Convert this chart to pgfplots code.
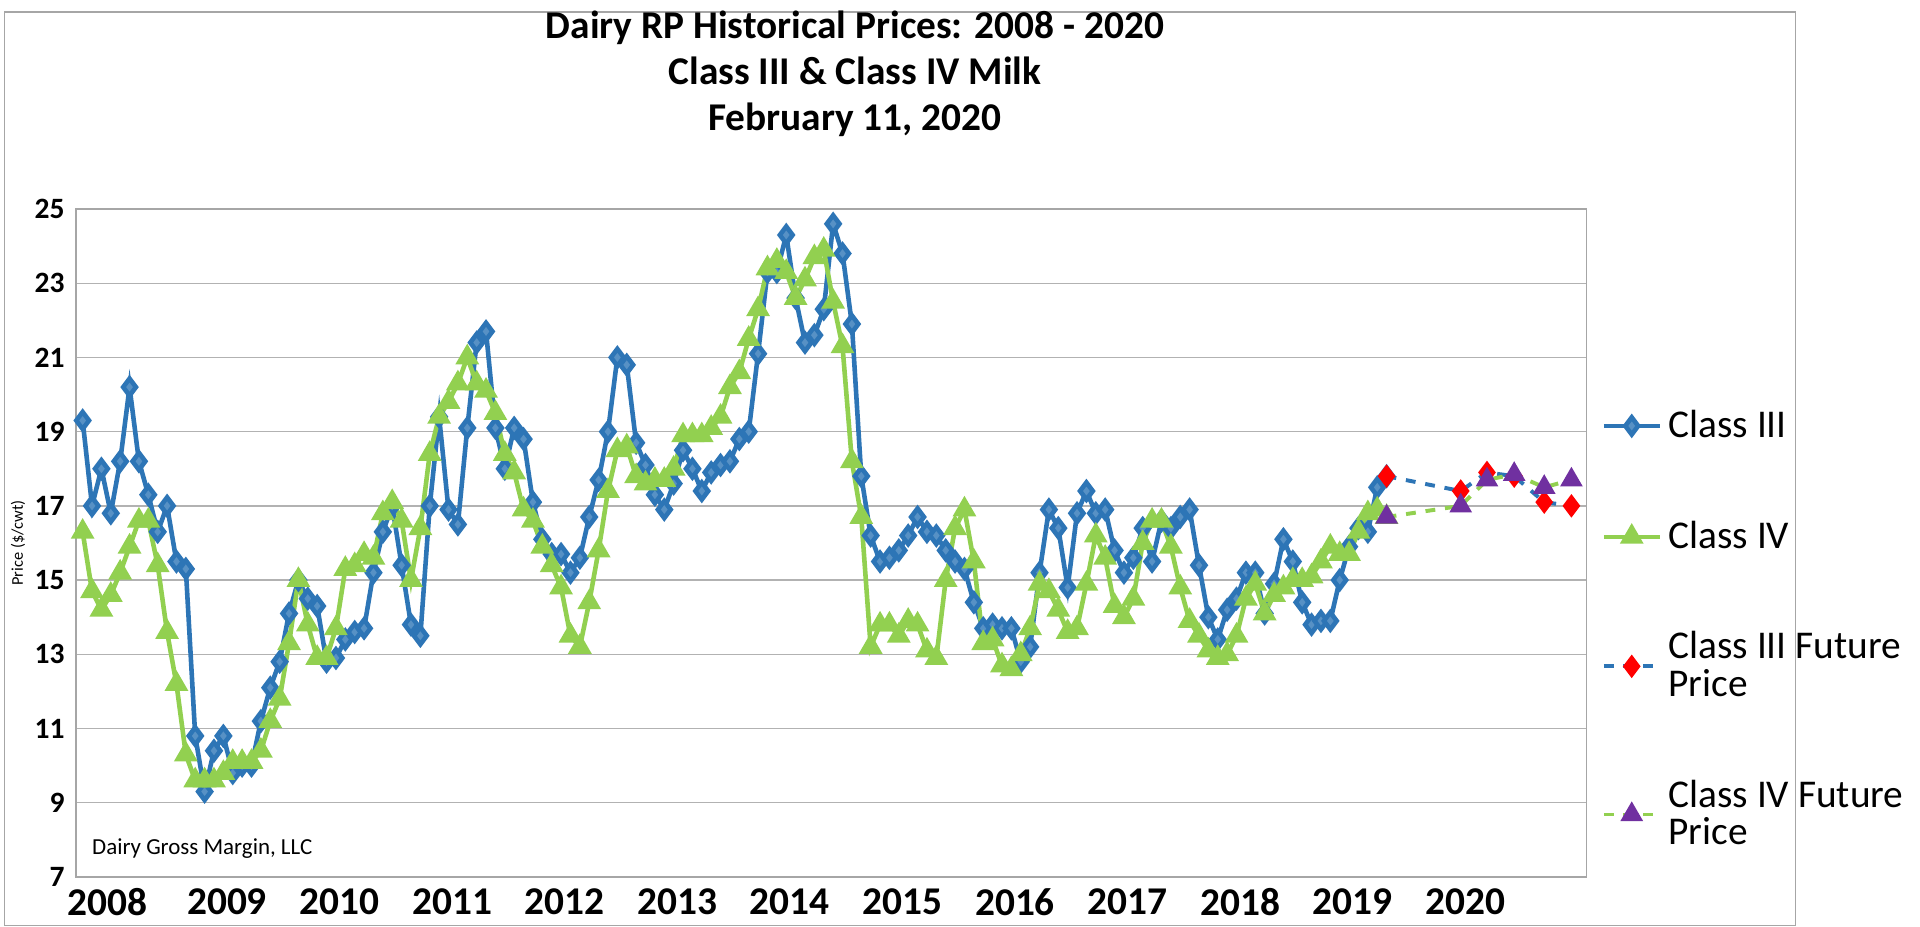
\documentclass[border=0pt]{standalone}
\usepackage{pgfplots}
\usepackage{pgfplotstable}
\pgfplotsset{compat=1.18}
\usepackage{fontspec}
\setmainfont{Carlito}
\definecolor{cblue}{RGB}{45,117,182}
\definecolor{cgreen}{RGB}{146,208,80}
\definecolor{cred}{RGB}{255,0,0}
\definecolor{cpurp}{RGB}{112,48,160}
\pgfplotstableread{
v
19.3
17.0
18.0
16.8
18.2
20.2
18.2
17.3
16.3
17.0
15.5
15.3
10.8
9.3
10.4
10.8
9.8
10.0
10.0
11.2
12.1
12.8
14.1
15.0
14.5
14.3
12.8
12.9
13.4
13.6
13.7
15.2
16.3
17.0
15.4
13.8
13.5
17.0
19.4
16.9
16.5
19.1
21.4
21.7
19.1
18.0
19.1
18.8
17.1
16.1
15.7
15.7
15.2
15.6
16.7
17.7
19.0
21.0
20.8
18.7
18.1
17.3
16.9
17.6
18.5
18.0
17.4
17.9
18.1
18.2
18.8
19.0
21.1
23.3
23.3
24.3
22.6
21.4
21.6
22.3
24.6
23.8
21.9
17.8
16.2
15.5
15.6
15.8
16.2
16.7
16.3
16.2
15.8
15.5
15.3
14.4
13.7
13.8
13.7
13.7
12.8
13.2
15.2
16.9
16.4
14.8
16.8
17.4
16.8
16.9
15.8
15.2
15.6
16.4
15.5
16.6
16.4
16.7
16.9
15.4
14.0
13.4
14.2
14.5
15.2
15.2
14.1
14.9
16.1
15.5
14.4
13.8
13.9
13.9
15.0
15.9
16.4
16.3
17.5
17.8
}\classiii
\pgfplotstableread{
v
16.3
14.7
14.2
14.6
15.2
15.9
16.6
16.6
15.4
13.6
12.2
10.3
9.6
9.6
9.6
9.8
10.1
10.1
10.1
10.4
11.2
11.8
13.3
15.0
13.8
12.9
12.9
13.7
15.3
15.4
15.7
15.6
16.8
17.1
16.6
15.0
16.4
18.4
19.4
19.8
20.3
21.0
20.3
20.1
19.5
18.4
17.9
16.9
16.6
15.9
15.4
14.8
13.5
13.2
14.4
15.8
17.4
18.5
18.6
17.8
17.6
17.7
17.7
18.0
18.9
18.9
18.9
19.1
19.4
20.2
20.6
21.5
22.3
23.4
23.6
23.3
22.6
23.1
23.7
23.9
22.5
21.3
18.2
16.7
13.2
13.8
13.8
13.5
13.9
13.8
13.1
12.9
15.0
16.4
16.9
15.5
13.3
13.4
12.7
12.6
13.0
13.7
14.9
14.7
14.2
13.6
13.7
14.9
16.2
15.6
14.3
14.0
14.5
16.0
16.6
16.6
15.9
14.8
13.9
13.5
13.1
12.9
13.0
13.5
14.5
14.9
14.1
14.6
14.8
15.0
15.0
15.1
15.5
15.9
15.7
15.7
16.3
16.8
16.9
16.7
}\classiv
\begin{document}
\begin{tikzpicture}
\draw[gray!70, fill=white] (0,0) rectangle (19.2,9.79);
\node[font=\bfseries\large, align=center] at (9.12,9.13) {Dairy RP Historical Prices: 2008 - 2020\\Class III \& Class IV Milk\\February 11, 2020};
\begin{axis}[
  at={(0.771cm,0.52cm)}, anchor=south west,
  scale only axis, width=16.19cm, height=7.16cm,
  xmin=-0.7, xmax=160.3, ymin=7, ymax=25,
  ytick={7,9,...,25},
  xtick={-0.7,12,24,36,48,60,72,84,96,108,120,132,144},
  xticklabels={2008,2009,2010,2011,2012,2013,2014,2015,2016,2017,2018,2019,2020},
  xticklabel style={font=\bfseries\large, anchor=north west, xshift=-6pt},
  yticklabel style={font=\bfseries\small},
  /pgf/number format/assume math mode=true,
  ymajorgrids, grid style={gray!60},
  major tick length=0pt,
  axis line style={gray!70},
  ylabel={Price (\$/cwt)}, ylabel style={font=\tiny, yshift=-4pt},
  legend style={at={(1.003,0.72)}, anchor=north west, draw=none, fill=none, font=\large, row sep=20pt},
  legend cell align=left,
]
\addplot[cblue, line width=1.4pt, mark=diamond*, mark size=2.6pt, mark options={fill=cblue!80!white}] table[x expr=\coordindex, y=v] {\classiii};
\addlegendentry{Class III}
\addplot[cgreen, line width=1.4pt, mark=triangle*, mark size=2.8pt] table[x expr=\coordindex, y=v] {\classiv};
\addlegendentry{Class IV}
\addplot[cblue, line width=1.2pt, dashed, mark=diamond*, mark size=2.6pt, mark options={solid, fill=cred, draw=cred}] coordinates {(139,17.8) (146.9,17.4) (149.7,17.9) (152.6,17.8) (155.8,17.1) (158.7,17.0)};
\addlegendentry{\shortstack[l]{Class III Future\\Price}}
\addplot[cgreen, line width=1.2pt, dashed, mark=triangle*, mark size=2.8pt, mark options={solid, fill=cpurp, draw=cpurp}] coordinates {(139,16.7) (146.9,17.0) (149.7,17.7) (152.6,17.85) (155.8,17.5) (158.7,17.7)};
\addlegendentry{\shortstack[l]{Class IV Future\\Price}}
\node[anchor=south west, font=\scriptsize] at (rel axis cs:0.003,0.01) {Dairy Gross Margin, LLC};
\end{axis}
\end{tikzpicture}
\end{document}
